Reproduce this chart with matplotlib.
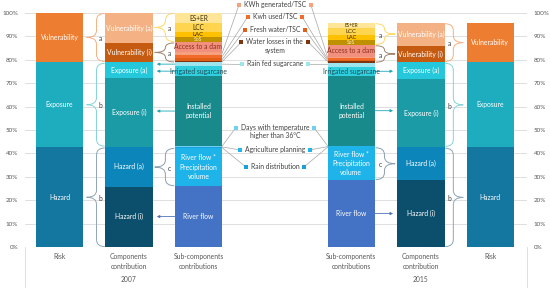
import matplotlib
matplotlib.use("Agg")
import matplotlib.pyplot as plt
import numpy as np
from matplotlib.path import Path
from matplotlib.patches import PathPatch

plt.rcParams['font.family'] = ['Lato', 'DejaVu Sans']

# layout: 2007 risk / components / sub-components | 2015 sub-components / components / risk
positions = [0, 1, 2, 4.2, 5.2, 6.2]
bar_w = 0.68
cat_labels = ["Risk", "Components\ncontribution", "Sub-components\ncontributions",
              "Sub-components\ncontributions", "Components\ncontribution", "Risk"]
years = ["2007", "2015"]

risk_names = ["Hazard", "Exposure", "Vulnerability"]
risk_2007 = [0.427, 0.362, 0.211]
risk_2015 = [0.426, 0.363, 0.167]
risk_colors = ["#13779F", "#1DADBF", "#ED7D31"]

comp_names = ["Hazard (i)", "Hazard (a)", "Exposure (i)", "Exposure (a)",
              "Vulnerability (i)", "Vulnerability (a)"]
comp_2007 = [0.258, 0.169, 0.297, 0.065, 0.081, 0.130]
comp_2015 = [0.286, 0.140, 0.292, 0.071, 0.071, 0.096]
comp_colors = ["#0B4F6C", "#0C86BA", "#1A9BA6", "#25C8DA", "#C55A11", "#F4B183"]

sub_names = ["River flow", "River flow *\nPrecipitation\nvolume", "Rain distribution",
             "Agriculture planning", "Days with temperature\nhigher than 36°C",
             "Installed\npotential", "Irrigated sugarcane", "Rain fed sugarcane",
             "Water losses in the\nsystem", "Fresh water/TSC", "Kwh used/TSC",
             "KWh generated/TSC", "Access to a dam", "SoS", "LAC", "LCC", "ES+ER"]
sub_2007 = [0.260, 0.163, 0.003, 0.003, 0.004, 0.296, 0.045, 0.015,
            0.006, 0.012, 0.013, 0.015, 0.040, 0.021, 0.024, 0.036, 0.044]
sub_2015 = [0.286, 0.140, 0.002, 0.002, 0.003, 0.299, 0.038, 0.018,
            0.006, 0.006, 0.006, 0.007, 0.050, 0.022, 0.021, 0.030, 0.020]
sub_colors = ["#4472C4", "#1FB4E9", "#1A9FDD", "#22B5EA", "#6FD0F2",
              "#188A8C", "#30CFDF", "#9DE5EE",
              "#7F3410", "#E0601A", "#F26B2B", "#F5A07E", "#F2907E",
              "#BF9000", "#FFC000", "#FFD54F", "#FFE597"]
# which sub-components are written inside the bar, which get a callout
sub_inbar = [0, 1, 5, 6, 12, 13, 14, 15, 16]
sub_text_colors = {6: "#1D4E57", 12: "#8B2E1E", 13: "#FFF2CC",
                   14: "#3B2F0B", 15: "#3B2F0B", 16: "#3B2F0B"}
callout_idx = [11, 10, 9, 8, 7, 4, 3, 2]
callout_y = [1.033, 0.984, 0.927, 0.876, 0.780, 0.509, 0.415, 0.343]

TXT = "#404040"
GRID = "#D9D9D9"
FS = 4.9

fig = plt.figure(figsize=(5.5, 2.88), dpi=100)
ax = fig.add_axes([25 / 550, 41 / 288, 502 / 550, 234 / 288])
ax.set_xlim(-0.496, 6.727)
ax.set_ylim(0, 1)


def stack(x, vals, colors, names, text_colors=None, labelled=None, sizes=None):
    bottoms = np.concatenate([[0], np.cumsum(vals)[:-1]])
    ax.bar(x, vals, bar_w, bottom=bottoms, color=colors, linewidth=0, zorder=2)
    for i, (b, v) in enumerate(zip(bottoms, vals)):
        if labelled is not None and i not in labelled:
            continue
        c = (text_colors or {}).get(i, "white")
        fs = (sizes or {}).get(i, FS)
        ax.text(x, b + v / 2, names[i], ha="center", va="center", color=c,
                fontsize=fs, linespacing=1.35, zorder=4)
    return bottoms


def brace(x_base, x_tip, y0, y1, color, letter):
    xb = x_base + 0.45 * (x_tip - x_base)
    ym = (y0 + y1) / 2
    r = min(0.03, (y1 - y0) / 4)
    verts = [(x_base, y1), (xb, y1), (xb, y1 - r), (xb, ym + r),
             (xb, ym), (x_tip, ym), (xb, ym), (xb, ym - r),
             (xb, y0 + r), (xb, y0), (x_base, y0)]
    codes = [Path.MOVETO, Path.CURVE3, Path.CURVE3, Path.LINETO,
             Path.CURVE3, Path.CURVE3, Path.CURVE3, Path.CURVE3,
             Path.LINETO, Path.CURVE3, Path.CURVE3]
    ax.add_patch(PathPatch(Path(verts, codes), fc="none", ec=color, lw=0.7, zorder=3))
    ax.text(x_base + 0.24 * (x_tip - x_base), ym - 0.005, letter, ha="center", va="center",
            fontsize=FS, color=TXT, zorder=4)


# grid
for gy in np.arange(0, 1.01, 0.1):
    ax.axhline(gy, color=GRID, lw=0.6, zorder=0)

data = [(risk_2007, risk_colors, risk_names), (comp_2007, comp_colors, comp_names),
        (sub_2007, sub_colors, sub_names), (sub_2015, sub_colors, sub_names),
        (comp_2015, comp_colors, comp_names), (risk_2015, risk_colors, risk_names)]
small_07 = {13: 3.7, 14: 4.4, 15: 4.7, 16: 4.7}
small_15 = {13: 3.5, 14: 4.1, 15: 4.4, 16: 3.4}
for k, (vals, cols, names) in enumerate(data):
    if names is sub_names:
        sizes = small_15 if k == 3 else small_07
        stack(positions[k], vals, cols, names, sub_text_colors, sub_inbar, sizes)
    else:
        stack(positions[k], vals, cols, names)

half = bar_w / 2
brace_cols = {"vul": "#F4B183", "exp": "#86D3DC", "haz": "#8FA6B8",
              "va": "#FFD966", "vi": "#A08572", "c": "#8C9FB0"}


def comp_braces(ci, ri, direction, comp_vals):
    # between components bar ci and risk bar ri; direction -1: tip left
    cum = np.concatenate([[0], np.cumsum(comp_vals)])
    x_base = positions[ci] + direction * (half + 0.01)
    x_tip = positions[ri] - direction * (half + 0.05)
    brace(x_base, x_tip, cum[4] + 0.004, cum[6] - 0.002, brace_cols["vul"], "a")
    brace(x_base, x_tip, cum[2] + 0.004, cum[4] - 0.004, brace_cols["exp"], "b")
    brace(x_base, x_tip, 0.002, cum[2] - 0.004, brace_cols["haz"], "b")


def sub_braces(si, ci, direction, sub_vals):
    cum = np.concatenate([[0], np.cumsum(sub_vals)])
    x_base = positions[si] + direction * (half + 0.01)
    x_tip = positions[ci] - direction * (half + 0.03)
    brace(x_base, x_tip, cum[13] + 0.003, cum[17] - 0.002, brace_cols["va"], "a")
    brace(x_base, x_tip, cum[8] + 0.002, cum[13] - 0.003, brace_cols["vi"], "a")
    brace(x_base, x_tip, cum[1] + 0.002, cum[2] - 0.002, brace_cols["c"], "c")


comp_braces(1, 0, -1, comp_2007)
comp_braces(4, 5, 1, comp_2015)
sub_braces(2, 1, -1, sub_2007)
sub_braces(3, 4, 1, sub_2015)

# arrows from sub-components to components
arrow_col = {7: "#1FA7B8", 6: "#1FA7B8", 5: "#1FA7B8", 0: "#4F74B8"}
for si, ci, idxs, vals in [(2, 1, [7, 6, 5, 0], sub_2007), (3, 4, [6, 5, 0], sub_2015)]:
    d = np.sign(positions[ci] - positions[si])
    cum = np.concatenate([[0], np.cumsum(vals)])
    for i in idxs:
        y = (cum[i] + cum[i + 1]) / 2
        ax.annotate("", xy=(positions[ci] - d * (half + 0.06), y),
                    xytext=(positions[si] + d * half, y),
                    arrowprops=dict(arrowstyle="-|>", lw=0.6, color=arrow_col[i],
                                    mutation_scale=4, shrinkA=0, shrinkB=0), zorder=3)

# callouts in the middle
mid_x = (positions[2] + positions[3]) / 2
cum07 = np.concatenate([[0], np.cumsum(sub_2007)])
cum15 = np.concatenate([[0], np.cumsum(sub_2015)])
texts = []
for i, y in zip(callout_idx, callout_y):
    t = ax.text(mid_x, y + 0.018, sub_names[i], ha="center", va="top", fontsize=FS,
                color=TXT, linespacing=1.3, clip_on=False, zorder=4)
    texts.append(t)
fig.canvas.draw()
inv = ax.transData.inverted()
for t, i, y in zip(texts, callout_idx, callout_y):
    bb = t.get_window_extent()
    xl = inv.transform((bb.x0 - 5, 0))[0]
    xr = inv.transform((bb.x1 + 5, 0))[0]
    ax.plot([xl, xr], [y, y], "s", ms=2.4, color=sub_colors[i], mew=0,
            clip_on=False, zorder=4)
    ax.plot([xl, positions[2] + half], [y, (cum07[i] + cum07[i + 1]) / 2],
            color="#A6A6A6", lw=0.5, clip_on=False, zorder=3)
    ax.plot([xr, positions[3] - half], [y, (cum15[i] + cum15[i + 1]) / 2],
            color="#A6A6A6", lw=0.5, clip_on=False, zorder=3)

# axes styling
ax.set_yticks(np.arange(0, 1.01, 0.1))
ax.set_yticklabels([f"{int(round(v * 100))}%" for v in np.arange(0, 1.01, 0.1)])
ax.tick_params(axis="y", length=0, labelsize=4.5, labelcolor="#595959",
               labelright=True, pad=5)
ax.set_xticks([])
for s in ax.spines.values():
    s.set_visible(False)

for x, lab in zip(positions, cat_labels):
    ax.text(x, -0.027, lab, ha="center", va="top", fontsize=FS, color="#595959",
            linespacing=1.45, clip_on=False)
for x, yr in zip([positions[1], positions[4]], years):
    ax.text(x, -0.137, yr, ha="center", va="center", fontsize=FS, color="#595959",
            clip_on=False)
for xa in [0, 1]:
    ax.plot([xa, xa], [0, -0.175], transform=ax.transAxes, color=GRID, lw=0.6,
            clip_on=False)

fig.savefig("out.png", dpi=100)
